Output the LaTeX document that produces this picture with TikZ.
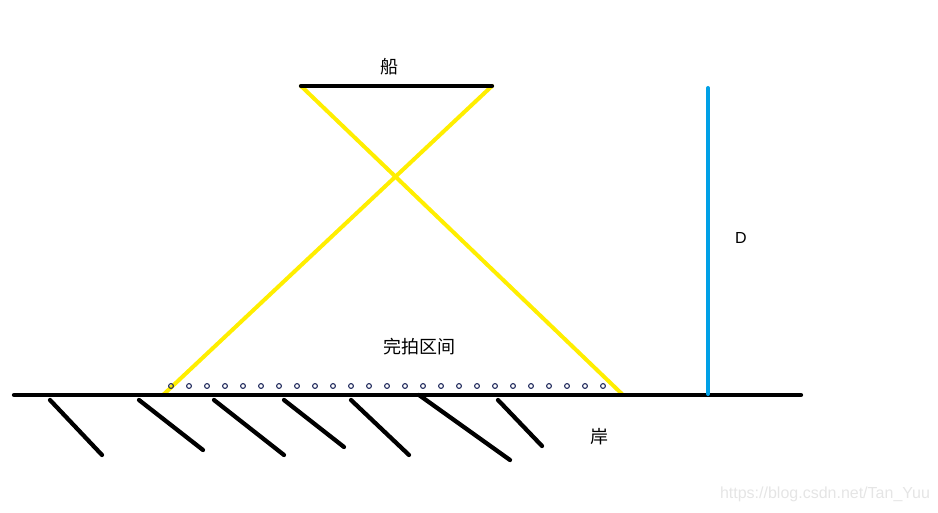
\documentclass[tikz,border=0pt]{standalone}
\usepackage{fontspec}
\setmainfont{Liberation Sans}
\newfontfamily\cjk{Noto Sans CJK SC}
\begin{document}
\begin{tikzpicture}[x=0.75pt,y=-0.75pt,
  ground/.style={line width=3.2pt,line cap=round,black},
  hatch/.style={line width=3.2pt,line cap=round,black},
  sight/.style={line width=3pt,line cap=round,color={rgb,255:red,255;green,238;blue,0}},
  depth/.style={line width=3pt,line cap=round,color={rgb,255:red,0;green,160;blue,230}},
  lbl/.style={inner sep=0pt,font=\cjk\fontsize{13.5pt}{14pt}\selectfont},
  dot/.style={circle,draw={rgb,255:red,30;green,40;blue,90},line width=0.8pt,inner sep=0pt,minimum size=3.6pt}]
\useasboundingbox (0,0) rectangle (938,513);
% coordinates
\coordinate (gL) at (14,395);
\coordinate (gR) at (801,395);
\coordinate (sL) at (301,86);
\coordinate (sR) at (492,86);
\coordinate (yL) at (163,395);
\coordinate (yR) at (622,394);
\coordinate (dT) at (708,88);
\coordinate (dB) at (708,394);
% yellow sight lines
\draw[sight] (sL) -- (yR);
\draw[sight] (sR) -- (yL);
% ship
\draw[ground] (sL) -- (sR);
% ground
\draw[ground] (gL) -- (gR);
% hatches
\foreach \a/\b/\c/\d [count=\i] in {50/400/102/455, 139/400/203/450, 214/400/284/455, 284/400/344/447, 351/400/409/455, 419/395/510/460, 498/400/542/446}{
  \coordinate (h\i a) at (\a,\b);
  \coordinate (h\i b) at (\c,\d);
  \draw[hatch] (h\i a) -- (h\i b);
}
% depth
\draw[depth] (dT) -- (dB);
% dots
\foreach \k in {0,...,24}{
  \node[dot] (p\k) at ({171+18*\k},386) {};
}
% labels
\node[lbl] (ship) at (389,67) {船};
\node[lbl] (zone) at (419,347) {完拍区间};
\node[lbl] (shore) at (599,437) {岸};
\node[inner sep=0pt,font=\fontsize{12pt}{14pt}\selectfont] (D) at (741,238) {D};
\node[inner sep=0pt,font=\fontsize{12pt}{14pt}\selectfont,color=black!10] (wm) at (825,494) {https://blog.csdn.net/Tan\_Yuu};
\end{tikzpicture}
\end{document}
